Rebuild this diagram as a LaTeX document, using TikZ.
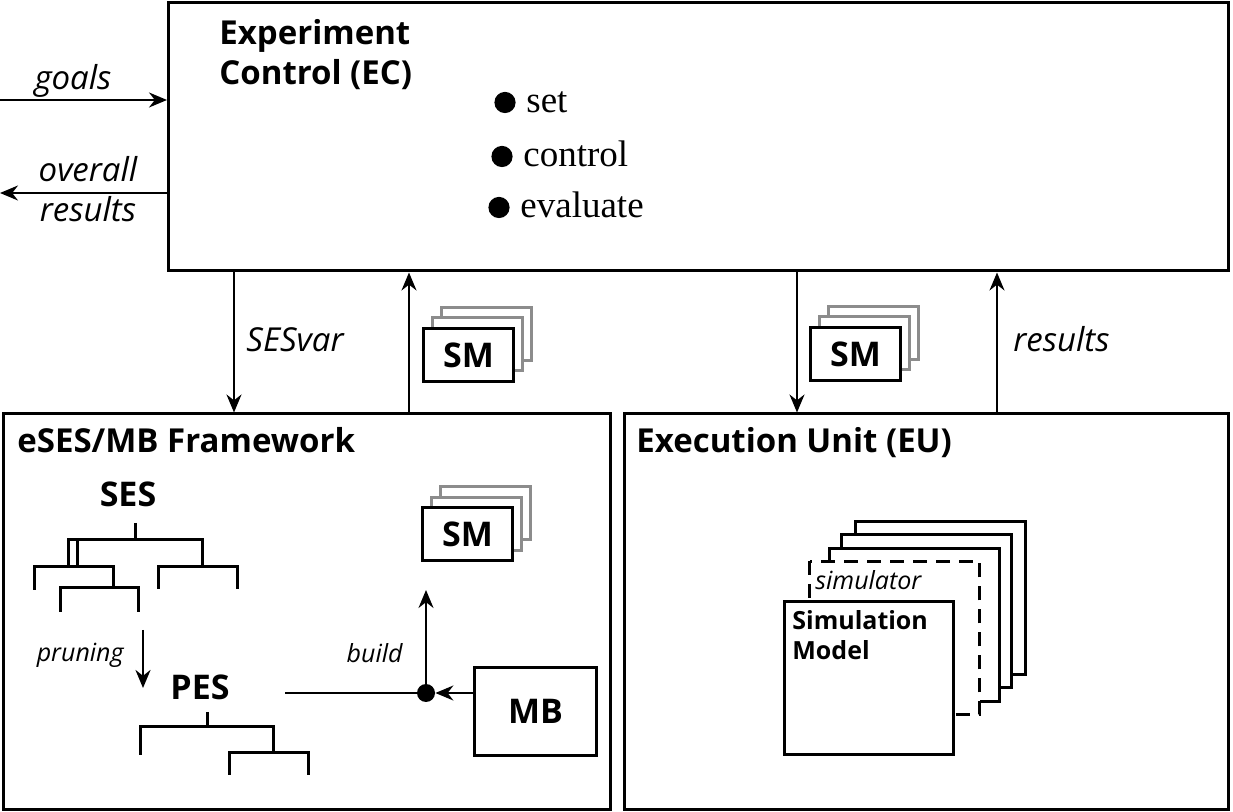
\documentclass[tikz,border=0pt]{standalone}
\usepackage{fontspec}
\setmainfont{Open Sans}
\newfontfamily\timesitems{Liberation Serif}
\usetikzlibrary{arrows.meta,fit,shadows}
\definecolor{ghostgray}{RGB}{140,140,140}

\tikzset{
  unit/.style={draw, line width=1.5pt, inner sep=0pt},
  arr/.style={-{Stealth[length=9pt,width=7.5pt]}, line width=1pt},
  heading/.style={font=\fontsize{16.5}{20}\selectfont\bfseries, anchor=base west, inner sep=0pt},
  flowtext/.style={font=\fontsize{16.5}{20}\selectfont\itshape, inner sep=0pt},
  smalltext/.style={font=\fontsize{12.5}{15}\selectfont\itshape, inner sep=0pt},
  boldtext/.style={font=\fontsize{17}{20}\selectfont\bfseries, inner sep=0pt},
  smstack/.style={draw, line width=1.5pt, fill=white, inner sep=0pt,
    minimum width=45pt, minimum height=26.5pt, boldtext,
    copy shadow={shadow xshift=9pt, shadow yshift=10.5pt, draw=ghostgray, fill=white},
    copy shadow={shadow xshift=4.5pt, shadow yshift=5.25pt, draw=ghostgray, fill=white}},
  treeline/.style={line width=1.5pt},
  sheet/.style={draw, line width=1.5pt, fill=white},
}

\begin{document}
\begin{tikzpicture}[x=0.5pt,y=-0.5pt]
\useasboundingbox (0,0) rectangle (1233,812);

% the three units
\node[unit, fit={(168.5,3)(1228.5,271)}] (ec) {};
\node[unit, fit={(3,414)(610,809)}] (eses) {};
\node[unit, fit={(624,414)(1228.5,809)}] (eu) {};

\node[heading, align=left] (ectitle) at (219,85) {Experiment\\Control (EC)};
\foreach \bx/\by/\word [count=\i] in {505/113/set, 502/167/control, 499/218/evaluate} {
  \fill (\bx,\by-10.5) circle (5.3pt);
  \node[anchor=base west, inner sep=0pt, font=\timesitems\fontsize{18.5}{22}\selectfont] (item\i) at (\bx+21,\by) {\word};
}

% inputs and outputs of EC
\coordinate (goalsin) at (0,100);
\coordinate (resout) at (0,193);
\draw[arr] (goalsin) -- (goalsin -| ec.west);
\draw[arr] (resout -| ec.west) -- (resout);
\node[flowtext, anchor=base] (goals) at (73,90) {goals};
\node[flowtext, align=center, anchor=base] (overall) at (88,222) {overall\\results};

\foreach \cx/\nm in {234/sesvar, 409/smup, 797/smdown, 997/resup}
  \coordinate (\nm) at (\cx,0);
\draw[arr] (sesvar |- ec.south) -- (sesvar |- eses.north);
\draw[arr] (smup |- eses.north) -- (smup |- ec.south);
\draw[arr] (smdown |- ec.south) -- (smdown |- eu.north);
\draw[arr] (resup |- eu.north) -- (resup |- ec.south);
\node[flowtext, anchor=base west] (sesvartext) at (246,352) {SESvar};
\node[flowtext, anchor=base west] (resultstext) at (1013,352) {results};

\node[smstack] (smec) at (468.5,355) {SM};
\node[smstack] (smeu) at (855.5,354) {SM};

% eSES/MB framework
\node[heading] (esestitle) at (17,453) {eSES/MB Framework};
\node[boldtext, anchor=base] (ses) at (128,507) {SES};
\draw[treeline] (135,523) -- (135,540);
\draw[treeline] (68,567) -- (68,540) -- (202,540) -- (202,567);
\draw[treeline] (77,540) -- (77,567);
\draw[treeline] (34,590) -- (34,567) -- (113,567) -- (113,588);
\draw[treeline] (60,612) -- (60,588) -- (138,588) -- (138,612);
\draw[treeline] (158,589) -- (158,567) -- (237,567) -- (237,589);

\coordinate (prunetop) at (143,630);
\coordinate (prunebot) at (143,688);
\draw[arr, line width=1.3pt] (prunetop) -- (prunebot);
\node[smalltext, anchor=base east] (pruning) at (124,662) {pruning};

\node[boldtext, anchor=base] (pes) at (200,700) {PES};
\draw[treeline] (207,712) -- (207,727);
\draw[treeline] (140,755) -- (140,727) -- (273,727) -- (273,753);
\draw[treeline] (229,775) -- (229,753) -- (308,753) -- (308,775);

\node[smstack] (smframe) at (467.5,534.5) {SM};
\node[unit, minimum width=61pt, minimum height=44pt, boldtext] (mb) at (535.5,711.5) {MB};
\node[circle, fill, inner sep=0pt, minimum size=9pt] (join) at (426,693) {};
\coordinate (pesline) at (285,693);
\coordinate (buildtip) at (426,590);
\draw[line width=1pt] (pesline) -- (join);
\draw[arr] (mb.west |- join) -- (join);
\draw[arr] (join) -- (buildtip);
\node[smalltext, anchor=base east] (build) at (403,663) {build};

% execution unit
\node[heading] (eutitle) at (636,453) {Execution Unit (EU)};
\foreach \dx/\dy in {73/-79, 59/-66, 47/-52}
  \draw[sheet] (782.5+\dx,600.5+\dy) rectangle ++(170,153);
\draw[sheet, dash pattern=on 7pt off 4.5pt] (809.5,561.5) rectangle ++(170,153);
\node[sheet, inner sep=0pt, minimum width=84.5pt, minimum height=76.5pt, anchor=north west] (simmodel) at (782.5,600.5) {};
\node[smalltext, anchor=base west] (simulator) at (815,590) {simulator};
\node[font=\fontsize{12.5}{15}\selectfont\bfseries, align=left, anchor=base west, inner sep=0pt] (simtext) at (792,660) {Simulation\\Model};
\end{tikzpicture}
\end{document}
